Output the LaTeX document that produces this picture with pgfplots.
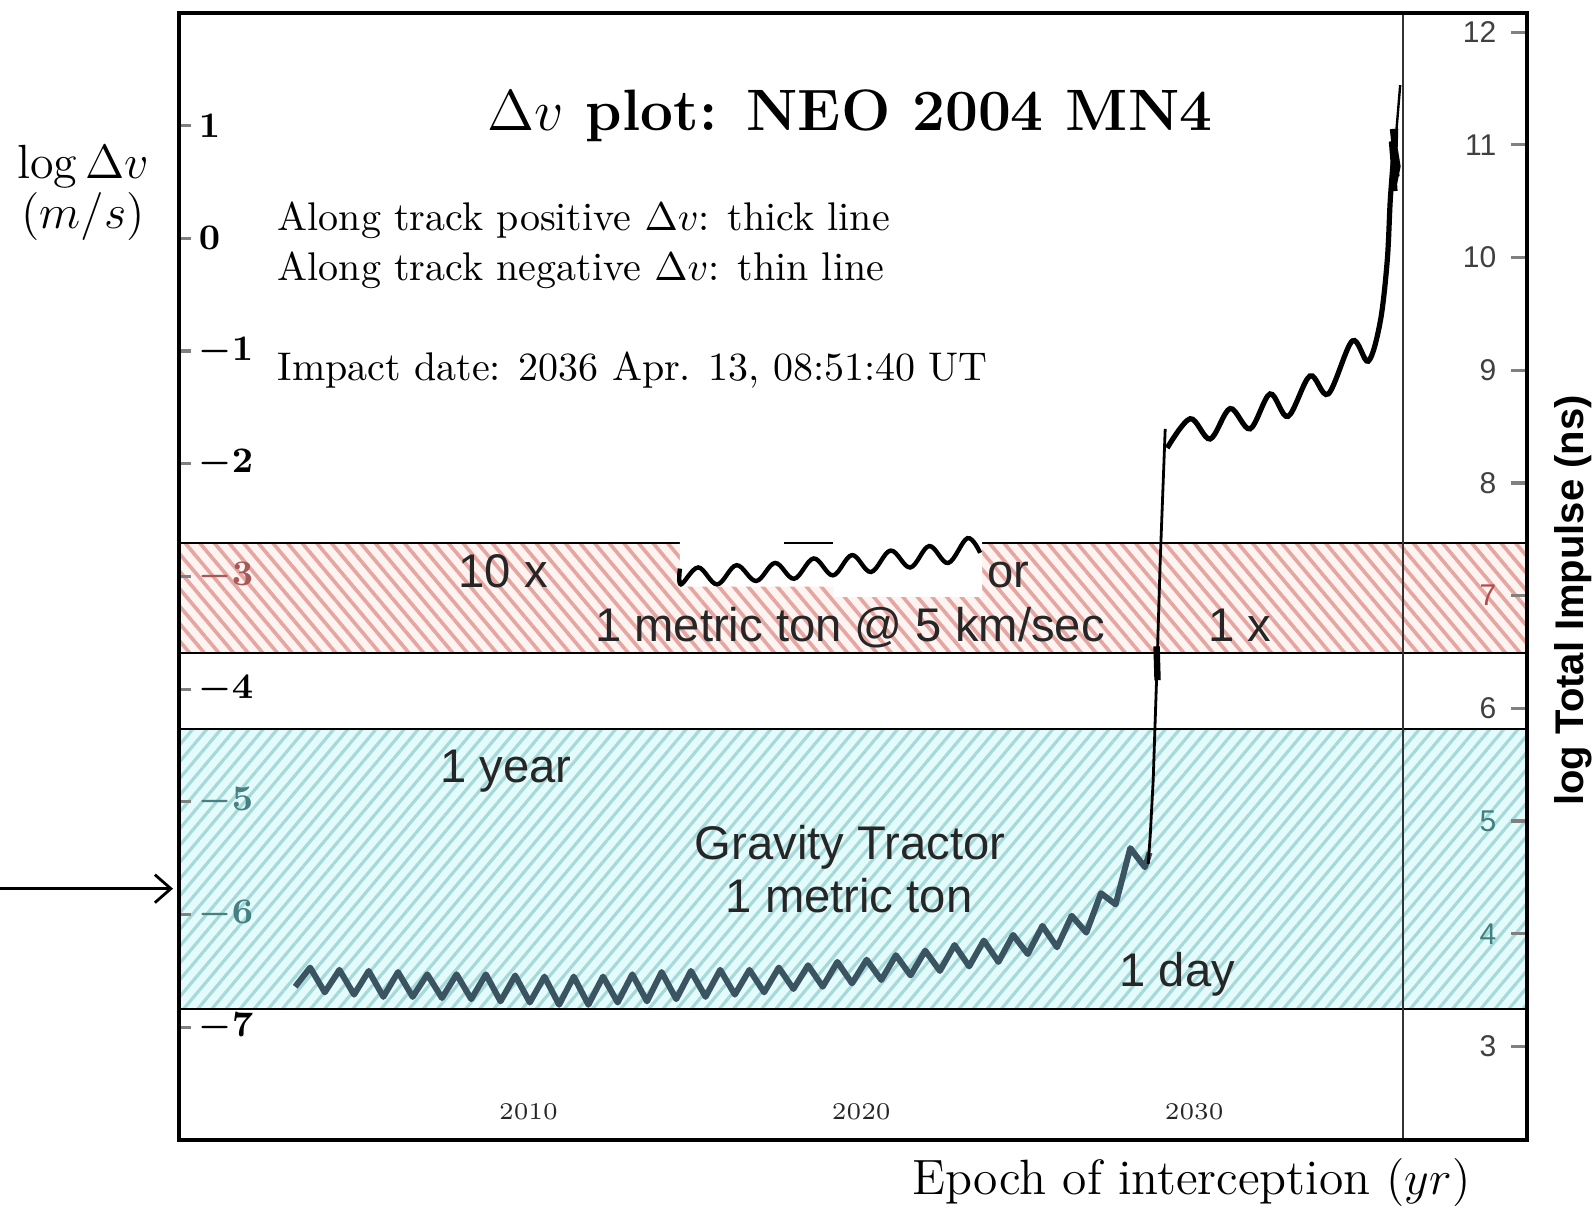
\documentclass[border=0pt]{standalone}
\usepackage{fontspec}
\newfontfamily\arial{Liberation Sans}
\usepackage{pgfplots}
\pgfplotsset{compat=1.18}
\usetikzlibrary{patterns.meta,arrows.meta}

\definecolor{tracslate}{HTML}{3A5561}
\definecolor{redhatch}{HTML}{E5A5A0}
\definecolor{redback}{HTML}{FDF3F0}
\definecolor{cyanhatch}{HTML}{A8D9DA}
\definecolor{cyanback}{HTML}{E4FBFB}
\definecolor{lbl}{HTML}{262626}

\begin{document}
\begin{tikzpicture}
% left axis: log dv (m/s), 1 px of the reference = 0.25pt
\begin{axis}[
    scale only axis, width=337pt, height=281.75pt,
    xmin=1999.5, xmax=2040, ymin=-8, ymax=2,
    axis on top,
    axis line style={line width=1pt},
    clip=false,
    /pgf/number format/1000 sep={},
    xtick={2010,2020,2030},
    xtick style={draw=none},
    xticklabel style={anchor=south, inner sep=0pt, yshift=5pt, text=black!85, font=\fontsize{6.3}{7}\selectfont},
    ytick={-7,...,1},
    yticklabels={$-7$,\textcolor{teal!45!gray}{$-6$},\textcolor{teal!45!gray}{$-5$},$-4$,\textcolor{red!30!gray}{$-3$},$-2$,$-1$,$0$,$1$},
    ytick pos=left,
    major tick length=3pt,
    ytick style={line width=0.8pt},
    yticklabel style={anchor=west, inner sep=0pt, xshift=4.75pt, font=\boldmath\fontsize{9}{10}\selectfont},
]

% kinetic impactor band (1 metric ton @ 5 km/sec)
\addplot[draw=none, fill=redback] coordinates {(1999.5,-2.70) (2040,-2.70) (2040,-3.68) (1999.5,-3.68)};
\addplot[draw=none, pattern={Lines[angle=-50, distance=2.8pt, line width=0.9pt]}, pattern color=redhatch]
    coordinates {(1999.5,-2.70) (2040,-2.70) (2040,-3.68) (1999.5,-3.68)};
\addplot[black, line width=0.5pt] coordinates {(1999.5,-2.70) (2040,-2.70)};
\addplot[black, line width=0.5pt] coordinates {(1999.5,-3.68) (2040,-3.68)};

% gravity tractor band
\addplot[draw=none, fill=cyanback] coordinates {(1999.5,-4.35) (2040,-4.35) (2040,-6.84) (1999.5,-6.84)};
\addplot[draw=none, pattern={Lines[angle=50, distance=2.7pt, line width=0.8pt]}, pattern color=cyanhatch]
    coordinates {(1999.5,-4.35) (2040,-4.35) (2040,-6.84) (1999.5,-6.84)};
\addplot[black, line width=0.5pt] coordinates {(1999.5,-4.35) (2040,-4.35)};
\addplot[black, line width=0.5pt] coordinates {(1999.5,-6.84) (2040,-6.84)};

% pasted patch in the red band
\addplot[draw=none, fill=white] coordinates {(2014.55,-2.59) (2023.63,-2.59) (2023.63,-3.18) (2019.16,-3.18) (2019.16,-3.09) (2014.55,-3.09)};
\addplot[black, line width=0.5pt] coordinates {(2017.68,-2.70) (2019.16,-2.70)};
\addplot[black, line width=1.1pt, smooth, tension=0.6] coordinates {
    (2014.55,-2.93) (2014.58,-3.07) (2015.10,-2.92) (2015.67,-3.07) (2016.25,-2.90)
    (2016.84,-3.04) (2017.41,-2.88) (2017.98,-3.02) (2018.57,-2.84) (2019.15,-2.99)
    (2019.72,-2.81) (2020.29,-2.96) (2020.88,-2.77) (2021.47,-2.92) (2022.04,-2.73)
    (2022.61,-2.88) (2023.19,-2.66) (2023.57,-2.79)};

% impact epoch
\addplot[black!80, line width=0.6pt] coordinates {(2036.27,-8) (2036.27,2)};

% negative along-track dv (lower curve)
\addplot[tracslate, line width=1.5pt, line join=round] coordinates {
    (2002.99,-6.64) (2003.44,-6.47) (2003.88,-6.69) (2004.32,-6.49) (2004.76,-6.71)
    (2005.20,-6.50) (2005.64,-6.73) (2006.08,-6.51) (2006.52,-6.73) (2006.96,-6.53)
    (2007.40,-6.74) (2007.84,-6.53) (2008.28,-6.75) (2008.72,-6.53) (2009.16,-6.77)
    (2009.60,-6.54) (2010.04,-6.78) (2010.48,-6.55) (2010.92,-6.80) (2011.36,-6.55)
    (2011.80,-6.80) (2012.24,-6.55) (2012.68,-6.78) (2013.12,-6.53) (2013.56,-6.77)
    (2014.00,-6.51) (2014.44,-6.75) (2014.88,-6.50) (2015.32,-6.73) (2015.76,-6.49)
    (2016.20,-6.71) (2016.64,-6.49) (2017.08,-6.69) (2017.52,-6.47) (2017.96,-6.66)
    (2018.40,-6.45) (2018.84,-6.64) (2019.28,-6.42) (2019.72,-6.61) (2020.16,-6.40)
    (2020.60,-6.58) (2021.04,-6.36) (2021.48,-6.54) (2021.92,-6.32) (2022.36,-6.50)
    (2022.80,-6.27) (2023.24,-6.46) (2023.68,-6.23) (2024.12,-6.42) (2024.56,-6.18)
    (2025.00,-6.35) (2025.44,-6.10) (2025.88,-6.29) (2026.32,-6.01) (2026.76,-6.16)
    (2027.20,-5.81) (2027.64,-5.91) (2028.08,-5.41) (2028.52,-5.58) (2028.66,-5.45)};

% jump through the bands
\addplot[black, line width=0.7pt] coordinates {
    (2028.62,-5.55) (2028.68,-5.30) (2028.77,-4.80) (2028.89,-3.74) (2028.98,-2.86) (2029.13,-1.69)};
\addplot[black, line width=1.6pt] coordinates {(2028.87,-3.62) (2028.90,-3.92)};

% positive along-track dv (upper curve)
\addplot[black, line width=1.3pt, smooth, tension=0.55] coordinates {
    (2029.19,-1.86) (2029.88,-1.60) (2030.48,-1.78) (2031.08,-1.51) (2031.68,-1.69)
    (2032.28,-1.38) (2032.82,-1.58) (2033.48,-1.22) (2034.03,-1.38) (2034.75,-0.91)
    (2035.23,-1.09) (2035.59,-0.74) (2035.80,-0.20) (2035.89,0.33) (2035.98,0.68)};
\addplot[black, line width=1.2pt] coordinates {
    (2035.98,0.68) (2036.04,0.42) (2035.92,0.86) (2036.10,0.55) (2035.95,0.97)
    (2036.13,0.64) (2036.01,0.46) (2036.06,0.97)};
\addplot[black, line width=0.6pt] coordinates {(2036.06,0.90) (2036.19,1.36)};

% arrow at the left
\addplot[black, line width=0.7pt, -{Straight Barb[length=4pt,width=7pt]}] coordinates {(1994.12,-5.77) (1999.32,-5.77)};

% texts
\node[anchor=base, font=\bfseries\fontsize{14.6}{17}\selectfont] at (axis cs:2019.66,0.956) {$\Delta v$ plot: NEO 2004 MN4};
\node[anchor=base west, inner sep=0pt, font=\fontsize{10}{12}\selectfont] at (axis cs:2002.44,0.071) {Along track positive $\Delta v$: thick line};
\node[anchor=base west, inner sep=0pt, font=\fontsize{10}{12}\selectfont] at (axis cs:2002.44,-0.372) {Along track negative $\Delta v$: thin line};
\node[anchor=base west, inner sep=0pt, font=\fontsize{10}{12}\selectfont] at (axis cs:2002.44,-1.265) {Impact date: 2036 Apr. 13, 08:51:40 UT};

\node[anchor=base, inner sep=0pt, font=\fontsize{12}{14}\selectfont] at (axis cs:1996.62,0.531) {$\log\Delta v$};
\node[anchor=base, inner sep=0pt, font=\fontsize{12}{14}\selectfont] at (axis cs:1996.62,0.088) {$(m/s)$};
\node[anchor=base east, inner sep=0pt, font=\fontsize{12.4}{14}\selectfont] at (axis cs:2038.32,-8.487) {Epoch of interception $(yr)$};
\node[rotate=90, anchor=center, font=\arial\bfseries\fontsize{10}{12}\selectfont] at (axis cs:2041.39,-3.212) {log Total Impulse (ns)};

\begin{scope}[every node/.style={inner sep=0pt, text=lbl, font=\arial\fontsize{11.8}{14}\selectfont}]
\node[anchor=base] at (axis cs:2009.24,-3.10) {10 x};
\node[anchor=base] at (axis cs:2024.41,-3.10) {or};
\node[anchor=base] at (axis cs:2019.66,-3.575) {1 metric ton @ 5 km/sec};
\node[anchor=base] at (axis cs:2031.38,-3.575) {1 x};
\node[anchor=base] at (axis cs:2009.33,-4.832) {1 year};
\node[anchor=base] at (axis cs:2019.66,-5.513) {Gravity Tractor};
\node[anchor=base] at (axis cs:2019.63,-5.982) {1 metric ton};
\node[anchor=base] at (axis cs:2029.49,-6.637) {1 day};
\end{scope}
\end{axis}

% right axis: log total impulse (ns)
\begin{axis}[
    scale only axis, width=337pt, height=281.75pt,
    xmin=1999.5, xmax=2040, ymin=2.17, ymax=12.17,
    axis x line=none, axis y line*=right,
    y axis line style={line width=1pt},
    ytick={3,...,12},
    yticklabels={3,\textcolor{teal!50!gray}{4},\textcolor{teal!50!gray}{5},6,\textcolor{red!40!gray}{7},8,9,10,11,12},
    major tick length=4pt,
    ytick style={line width=0.8pt},
    yticklabel style={anchor=east, inner sep=0pt, xshift=-7.5pt, text=black!75, font=\arial\fontsize{7.5}{8}\selectfont},
]
\end{axis}

\pgfresetboundingbox
\path[use as bounding box] (-44.75pt,-17.75pt) rectangle (354.25pt,285pt);
\end{tikzpicture}
\end{document}
